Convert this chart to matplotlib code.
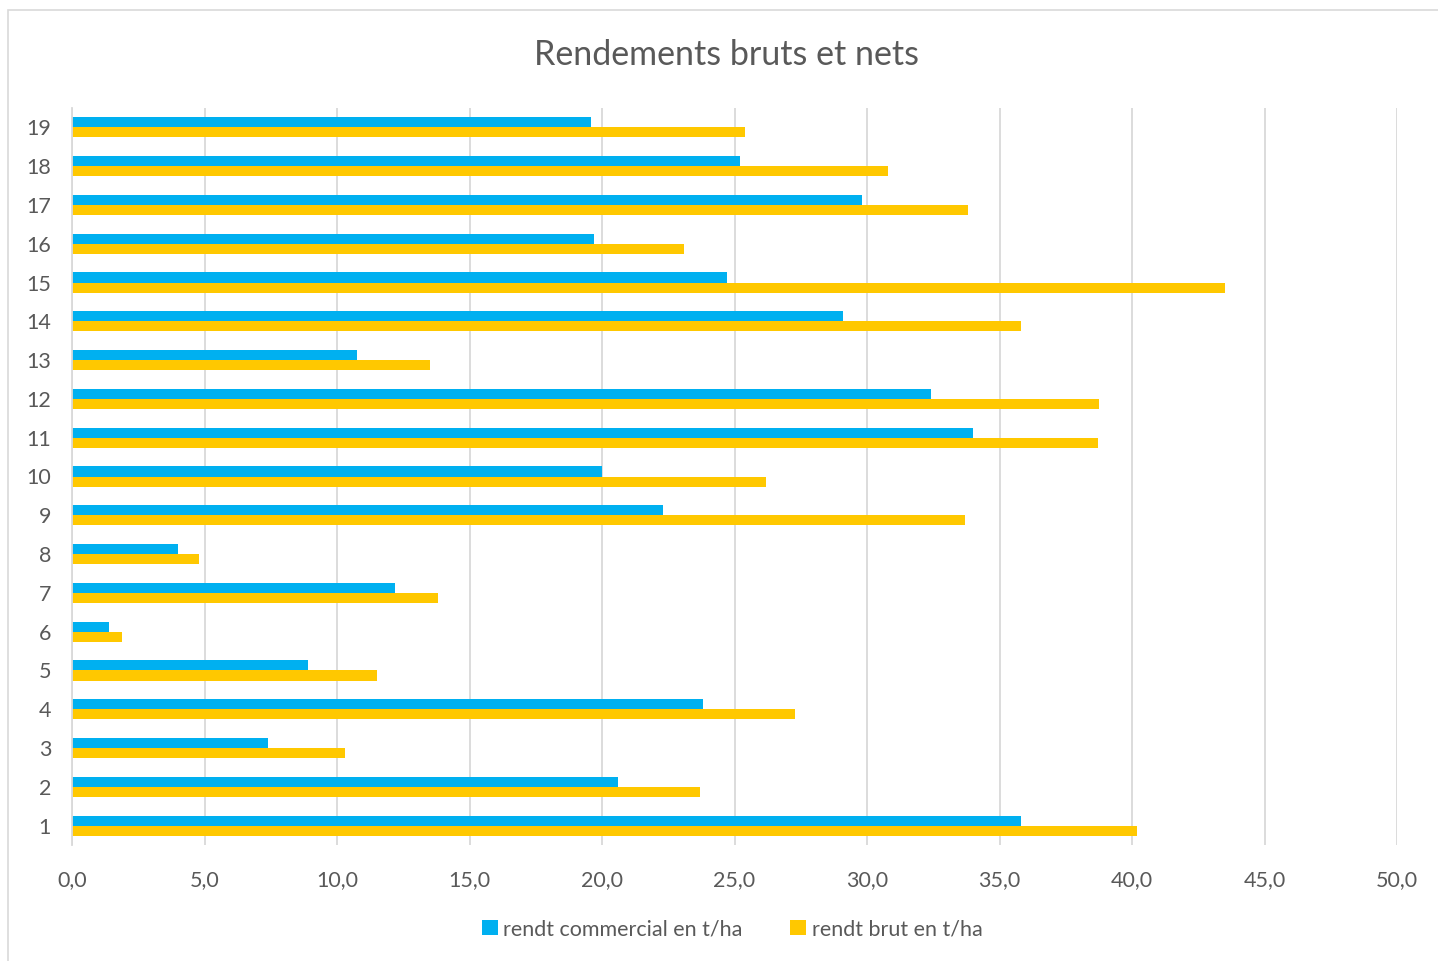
import matplotlib.pyplot as plt
import numpy as np
from matplotlib.patches import Rectangle

plt.rcParams["font.family"] = ["Lato", "DejaVu Sans"]

# Data
parcelles = list(range(1, 20))
rendt_commercial = [35.8, 20.6, 7.4, 23.8, 8.9, 1.4, 12.2, 4.0, 22.3, 20.0,
                    34.0, 32.4, 10.75, 29.1, 24.7, 19.7, 29.8, 25.2, 19.6]
rendt_brut = [40.2, 23.7, 10.3, 27.3, 11.5, 1.9, 13.8, 4.8, 33.7, 26.2,
              38.7, 38.75, 13.5, 35.8, 43.5, 23.1, 33.8, 30.8, 25.4]

blue = "#00B0F0"
gold = "#FFC800"
grey_text = "#595959"
grid_col = "#D9D9D9"

fig = plt.figure(figsize=(14.38, 9.61), dpi=100)
ax = fig.add_axes([72 / 1438, 1 - 845 / 961, (1397 - 72) / 1438, (845 - 108) / 961])

y = np.arange(len(parcelles))
h = 0.26
ax.barh(y + h / 2, rendt_commercial, height=h, color=blue, label="rendt commercial en t/ha")
ax.barh(y - h / 2, rendt_brut, height=h, color=gold, label="rendt brut en t/ha")

ax.set_xlim(0, 50)
ax.set_ylim(-0.5, len(parcelles) - 0.5)
ax.set_xticks(np.arange(0, 55, 5))
ax.set_xticklabels([f"{v:.1f}".replace(".", ",") for v in np.arange(0, 55, 5)])
ax.set_yticks(y)
ax.set_yticklabels([str(p) for p in parcelles])
ax.tick_params(axis="both", length=0, labelsize=15.5, colors=grey_text)
ax.tick_params(axis="x", pad=18)
ax.tick_params(axis="y", pad=15)
ax.grid(axis="x", color=grid_col, linewidth=1.3)
ax.set_axisbelow(True)
for side in ["top", "right", "bottom"]:
    ax.spines[side].set_visible(False)
ax.spines["left"].set_color(grid_col)
ax.spines["left"].set_linewidth(1.3)

fig.text(727 / 1438, 1 - 55 / 961, "Rendements bruts et nets", ha="center", va="center",
         fontsize=24.5, color=grey_text)

leg = fig.legend(loc="center", bbox_to_anchor=(732 / 1438, 1 - 929 / 961), ncol=2,
                 frameon=False, fontsize=15.5, handlelength=0.75, handleheight=0.75,
                 handletextpad=0.25, columnspacing=2.2, labelcolor=grey_text)

# Chart area border
fig.patches.append(Rectangle((8 / 1438, -0.01), 1.1, 1 - 10 / 961 + 0.01,
                             transform=fig.transFigure, fill=False,
                             edgecolor="#D9D9D9", linewidth=1.2))

fig.savefig("out.png", dpi=100)
